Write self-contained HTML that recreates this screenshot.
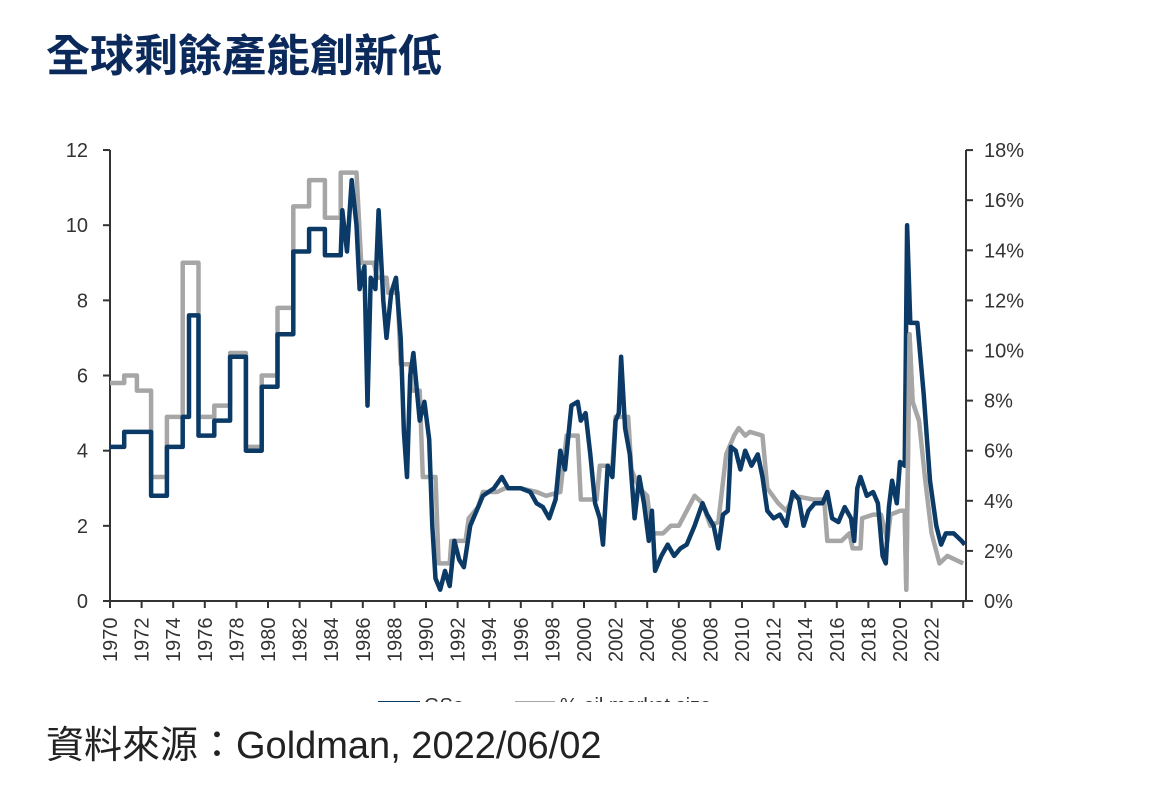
<!DOCTYPE html>
<html><head><meta charset="utf-8"><style>
body{margin:0;background:#fff;width:1157px;height:802px;overflow:hidden;font-family:"Liberation Sans","Noto Sans CJK TC",sans-serif;}
.t{position:absolute;left:46px;top:20px;font-size:44px;font-weight:bold;color:#0b2a5b;font-family:"Liberation Sans","Noto Sans CJK TC",sans-serif;}
.s{position:absolute;left:46px;top:714px;font-size:38px;color:#222;}
svg{position:absolute;left:0;top:0}
</style></head><body>
<div class="t">全球剩餘產能創新低</div>
<svg width="1157" height="802" id="c">
<defs><clipPath id="cp"><rect x="0" y="0" width="1157" height="702"/></clipPath></defs>
<g id="ax" stroke="#333" stroke-width="2" fill="none"></g>
<g id="lab" font-family="Liberation Sans,sans-serif" font-size="20" fill="#333"></g>
<g clip-path="url(#cp)">
<line x1="378" y1="703" x2="420" y2="703" stroke="#0b3a66" stroke-width="4"/>
<text x="424" y="712" font-family="Liberation Sans,sans-serif" font-size="20" fill="#333">GSe</text>
<line x1="515" y1="703" x2="555" y2="703" stroke="#a6a6a6" stroke-width="4"/>
<text x="560" y="712" font-family="Liberation Sans,sans-serif" font-size="20" fill="#333">% oil market size</text>
</g>
<path id="g" fill="none" stroke="#a6a6a6" stroke-width="4.5" stroke-linejoin="round"/>
<path id="b" fill="none" stroke="#0b3a66" stroke-width="4.5" stroke-linejoin="round"/>
<path id="g2" fill="none" stroke="#a6a6a6" stroke-width="4.5" stroke-linejoin="round"/>
</svg>
<div class="s">資料來源：Goldman, 2022/06/02</div>
<script>
var X0=110,PY=15.8,Y0=601,PU=37.58;
function X(y){return X0+(y-1970)*PY}
function Y(v){return Y0-v*PU}
var ax=document.getElementById('ax'),lab=document.getElementById('lab'),h='',l='';
h+='<line x1="110" y1="150" x2="110" y2="601"/><line x1="966" y1="150" x2="966" y2="601"/><line x1="110" y1="601" x2="966" y2="601"/>';
for(var i=0;i<=6;i++){var y=Y(i*2);h+='<line x1="103" y1="'+y+'" x2="110" y2="'+y+'"/>';l+='<text x="88" y="'+(y+7)+'" text-anchor="end">'+(i*2)+'</text>';}
for(var i=0;i<=9;i++){var y=601-i*2*25.05;h+='<line x1="966" y1="'+y+'" x2="973" y2="'+y+'"/>';l+='<text x="984" y="'+(y+7)+'">'+(i*2)+'%</text>';}
for(var yr=1970;yr<=2024;yr+=2){var x=X(yr);h+='<line x1="'+x+'" y1="601" x2="'+x+'" y2="608"/>';if(yr<=2022)l+='<text transform="translate('+(x+7)+',662) rotate(-90)">'+yr+'</text>';}
ax.innerHTML=h;lab.innerHTML=l;
function step(a){var d='';for(var i=0;i<a.length;i++){var p=a[i];d+=(i?'L':'M')+X(p[0]).toFixed(1)+','+Y(p[1]).toFixed(1);}return d;}
var G=[[1970,5.8],[1970.9,5.8],[1970.9,6.0],[1971.7,6.0],[1971.7,5.6],[1972.6,5.6],[1972.6,3.3],[1973.6,3.3],[1973.6,4.9],[1974.6,4.9],[1974.6,9.0],[1975.6,9.0],[1975.6,4.9],[1976.6,4.9],[1976.6,5.2],[1977.6,5.2],[1977.6,6.6],[1978.6,6.6],[1978.6,4.1],[1979.6,4.1],[1979.6,6.0],[1980.6,6.0],[1980.6,7.8],[1981.6,7.8],[1981.6,10.5],[1982.6,10.5],[1982.6,11.2],[1983.6,11.2],[1983.6,10.2],[1984.6,10.2],[1984.6,11.4],[1985.6,11.4],[1985.9,9.0],[1986.7,9.0],[1986.9,8.6],[1987.5,8.6],[1987.6,8.2],[1988.2,8.2],[1988.4,6.3],[1989,6.3],[1989.1,5.6],[1989.6,5.6],[1989.8,3.3],[1990.6,3.3],[1990.8,1.0],[1991.5,1.0],[1991.6,1.6],[1992.5,1.6],[1992.7,2.2],[1993.3,2.5],[1993.6,2.9],[1994.5,2.9],[1995,3.0],[1996,3.0],[1997,2.9],[1997.6,2.8],[1998.5,2.9],[1998.9,4.4],[1999.6,4.4],[1999.8,2.7],[2000.8,2.7],[2001,3.6],[2001.8,3.6],[2002,4.9],[2002.8,4.9],[2003,3.5],[2003.5,3.0],[2004,2.8],[2004.3,1.8],[2005,1.8],[2005.5,2.0],[2006,2.0],[2006.5,2.4],[2007,2.8],[2007.5,2.6],[2008,2.0],[2008.5,2.1],[2009,3.9],[2009.5,4.4],[2009.8,4.6],[2010.2,4.4],[2010.5,4.5],[2011.3,4.4],[2011.6,3.0],[2012.3,2.6],[2012.8,2.4],[2013.3,2.8],[2014.5,2.7],[2015.2,2.7],[2015.4,1.6],[2016.3,1.6],[2016.8,1.8],[2017,1.4],[2017.5,1.4],[2017.6,2.2],[2018.3,2.3],[2018.8,2.3],[2019.2,1.6],[2019.4,2.3],[2020,2.4],[2020.3,2.4],[2020.4,0.3],[2020.6,7.1],[2020.8,5.3],[2021.2,4.8],[2021.6,3.2],[2022,1.8],[2022.5,1.0],[2023,1.2],[2023.5,1.1],[2024,1.0]];
var B=[[1970,4.1],[1970.9,4.1],[1970.9,4.5],[1972.6,4.5],[1972.6,2.8],[1973.6,2.8],[1973.6,4.1],[1974.6,4.1],[1974.6,4.9],[1975,4.9],[1975,7.6],[1975.6,7.6],[1975.6,4.4],[1976.6,4.4],[1976.6,4.8],[1977.6,4.8],[1977.6,6.5],[1978.6,6.5],[1978.6,4.0],[1979.6,4.0],[1979.6,5.7],[1980.6,5.7],[1980.6,7.1],[1981.6,7.1],[1981.6,9.3],[1982.6,9.3],[1982.6,9.9],[1983.6,9.9],[1983.6,9.2],[1984.6,9.2],[1984.7,10.4],[1985,9.3],[1985.3,11.2],[1985.6,10.0],[1985.8,8.3],[1986.1,8.9],[1986.3,5.2],[1986.5,8.6],[1986.8,8.3],[1987,10.4],[1987.3,8.0],[1987.5,7.0],[1987.8,8.2],[1988.1,8.6],[1988.4,7.0],[1988.6,4.5],[1988.8,3.3],[1989,6.0],[1989.2,6.6],[1989.6,4.8],[1989.9,5.3],[1990.2,4.3],[1990.4,2.0],[1990.6,0.6],[1990.9,0.3],[1991.2,0.8],[1991.5,0.4],[1991.8,1.6],[1992.1,1.1],[1992.4,0.9],[1992.8,2.0],[1993.2,2.4],[1993.6,2.8],[1994.3,3.0],[1994.8,3.3],[1995.2,3.0],[1996,3.0],[1996.6,2.9],[1997,2.6],[1997.4,2.5],[1997.8,2.2],[1998.2,2.7],[1998.5,4.0],[1998.8,3.5],[1999.2,5.2],[1999.6,5.3],[1999.8,4.8],[2000.1,5.0],[2000.4,3.9],[2000.7,2.6],[2001,2.2],[2001.2,1.5],[2001.5,3.6],[2001.8,3.3],[2002,4.8],[2002.2,5.0],[2002.35,6.5],[2002.6,4.6],[2002.9,3.9],[2003.2,2.2],[2003.5,3.3],[2003.8,2.6],[2004.1,1.6],[2004.3,2.4],[2004.5,0.8],[2004.9,1.2],[2005.3,1.5],[2005.7,1.2],[2006.1,1.4],[2006.5,1.5],[2007,2.0],[2007.5,2.6],[2007.8,2.3],[2008.2,2.0],[2008.5,1.4],[2008.8,2.3],[2009.1,2.4],[2009.3,4.1],[2009.6,4.0],[2009.9,3.5],[2010.2,4.0],[2010.6,3.6],[2011,3.9],[2011.3,3.3],[2011.6,2.4],[2012,2.2],[2012.4,2.3],[2012.8,2.0],[2013.2,2.9],[2013.6,2.7],[2013.9,2.0],[2014.2,2.4],[2014.6,2.6],[2015.1,2.6],[2015.4,2.9],[2015.7,2.2],[2016.1,2.1],[2016.5,2.5],[2016.9,2.2],[2017.1,1.6],[2017.3,3.0],[2017.5,3.3],[2017.9,2.8],[2018.3,2.9],[2018.6,2.6],[2018.9,1.2],[2019.1,1.0],[2019.3,2.5],[2019.5,3.2],[2019.8,2.6],[2020,3.7],[2020.3,3.6],[2020.45,10.0],[2020.65,7.4],[2021.1,7.4],[2021.5,5.5],[2021.9,3.2],[2022.3,2.0],[2022.6,1.5],[2022.9,1.8],[2023.4,1.8],[2023.9,1.6],[2024.1,1.5]];
document.getElementById('g').setAttribute('d',step(G));
document.getElementById('b').setAttribute('d',step(B));
document.getElementById('g2').setAttribute('d',step(G.filter(function(p){return p[0]>=2020.2&&p[0]<=2021.3})));
</script>
</body></html>
